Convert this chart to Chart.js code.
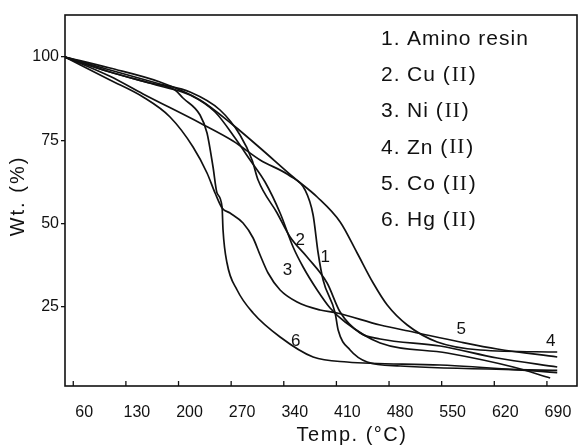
<!DOCTYPE html>
<html>
<head>
<meta charset="UTF-8">
<title>TGA curves</title>
<script src="https://cdn.jsdelivr.net/npm/chart.js@4.4.1/dist/chart.umd.min.js"></script>
<style>
body { margin: 0; background: #fff; }
</style>
</head>
<body>
<canvas id="myChart" width="579" height="448"></canvas>
<script>
// temperature (°C) / weight (%) pairs
const tAmino = [49, 108.8, 152.8, 228.6, 272.5, 308.5, 348.4, 368.3, 379, 385.7, 392.3, 408.3, 412.3, 428.2, 450.9, 494.8, 703.7];
const wAmino = [100, 94.2, 88.9, 80.2, 74.8, 69.1, 64.3, 60.1, 52.6, 41.2, 33.1, 23.2, 18.1, 12.1, 8.5, 7.3, 6.0];

const tCu = [49, 108.8, 175.3, 215.3, 255.2, 281.8, 297.8, 305.8, 331.1, 348.4, 371, 397.6, 414.9, 441.5, 468.2, 548, 623.9, 703.7];
const wCu = [100, 96.1, 91.9, 89.5, 84.1, 76.6, 69.1, 63.1, 53.2, 46, 40, 32.2, 23.5, 17.2, 15.4, 13.3, 9.7, 7.0];

const tNi = [49, 108.8, 175.3, 215.3, 248.6, 275.2, 295.2, 315.1, 335.1, 352.4, 365.7, 384.4, 401.6, 421.6, 468.2, 557.3, 645.1, 694.3];
const wNi = [100, 95.5, 91.3, 88.6, 83.5, 75.7, 69.1, 62.5, 53.2, 43, 37, 30.1, 24.7, 20.5, 14.2, 11.2, 7.0, 3.7];

const tZn = [49, 108.8, 175.3, 228.6, 272.5, 308.5, 352.4, 384.4, 415, 437.6, 458.9, 477.6, 504.2, 544.1, 601.3, 703.7];
const wZn = [100, 96.7, 92.5, 87.1, 79.6, 72.7, 64, 58, 50.5, 41.2, 32.2, 25.6, 19.6, 14.5, 12.1, 11.5];

const tCo = [49, 108.8, 152.8, 188.7, 219.3, 237.9, 248.6, 257.9, 268.5, 285.8, 299.2, 308.5, 319.1, 335.1, 357.7, 388.3, 410.9, 468.2, 512.1, 574.6, 623.9, 703.7];
const wCo = [100, 93.1, 88, 82, 73, 65.2, 59.2, 54.7, 53.2, 50.2, 45.7, 40.6, 35.2, 30.1, 26.5, 24.1, 23.2, 19.6, 17.5, 14.5, 12.4, 10.0];

const tHg = [49, 108.8, 162.1, 195.3, 205.9, 228.6, 237.9, 245.9, 251.2, 257.9, 259.2, 264.5, 277.9, 299.2, 335.1, 379, 424.2, 548, 703.7];
const wHg = [100, 95.5, 92.2, 90.1, 87.7, 82.6, 77.2, 67, 59.2, 55, 48.1, 38.2, 30.1, 23.2, 16, 10, 8.5, 7.6, 5.3];

const seriesNames = ['Amino resin', 'Cu (II)', 'Ni (II)', 'Zn (II)', 'Co (II)', 'Hg (II)'];
const xTicks = [60, 130, 200, 270, 340, 410, 480, 550, 620, 690];
const yTicks = [25, 50, 75, 100];

// where the curve numbers sit (temp, wt)
const curveTags = [
    ['1', 395, 40], ['2', 362, 45], ['3', 345, 36],
    ['4', 695, 14.8], ['5', 576, 18.4], ['6', 356, 14.8]
];

function pairs(t, w) {
    return t.map((v, i) => ({ x: v, y: w[i] }));
}

const allT = [tAmino, tCu, tNi, tZn, tCo, tHg];
const allW = [wAmino, wCu, wNi, wZn, wCo, wHg];

const datasets = seriesNames.map((name, i) => ({
    label: name,
    data: pairs(allT[i], allW[i]),
    borderColor: '#111',
    borderWidth: 1.7,
    pointRadius: 0,
    fill: false,
    cubicInterpolationMode: 'monotone'
}));

const FONT = '"Liberation Sans", Arial, sans-serif';
const SERIF = '"Liberation Serif", "DejaVu Serif", serif';

// draws "Cu (II)" with the roman numeral in a serif face, like the original lettering
function keyText(ctx, text, x, y) {
    const m = text.match(/^(.*\()II(\))$/);
    if (!m) { ctx.fillText(text, x, y); return; }
    ctx.fillText(m[1], x, y);
    let px = x + ctx.measureText(m[1]).width + 1;
    const sans = ctx.font;
    ctx.font = '21px ' + SERIF;
    ctx.fillText('II', px, y);
    px += ctx.measureText('II').width + 1;
    ctx.font = sans;
    ctx.fillText(m[2], px, y);
}

const extras = {
    id: 'extras',
    afterDraw(chart) {
        const ctx = chart.ctx;
        const a = chart.chartArea;
        const xs = chart.scales.x, ys = chart.scales.y;
        ctx.save();
        ctx.strokeStyle = '#111';
        ctx.lineWidth = 1.6;
        ctx.strokeRect(a.left, a.top, a.right - a.left, a.bottom - a.top);

        // inward ticks on the temperature axis
        ctx.lineWidth = 1.3;
        xTicks.forEach(v => {
            const px = xs.getPixelForValue(v);
            ctx.beginPath();
            ctx.moveTo(px, a.bottom);
            ctx.lineTo(px, a.bottom - 5);
            ctx.stroke();
        });

        ctx.fillStyle = '#111';
        ctx.textAlign = 'center';
        ctx.textBaseline = 'middle';

        // numbers on the curves
        ctx.font = '17px ' + FONT;
        curveTags.forEach(c => {
            ctx.fillText(c[0], xs.getPixelForValue(c[1]), ys.getPixelForValue(c[2]));
        });

        // key in the top right corner
        ctx.textAlign = 'left';
        ctx.font = '21px ' + FONT;
        ctx.letterSpacing = '1px';
        seriesNames.forEach((name, i) => {
            const y = a.top + 24 + i * 36.3;
            ctx.fillText((i + 1) + '.', a.left + 316, y);
            keyText(ctx, name, a.left + 342, y);
        });

        // axis titles
        ctx.font = '20px ' + FONT;
        ctx.letterSpacing = '1.5px';
        ctx.textAlign = 'center';
        ctx.fillText('Temp. (°C)', 352, 435);
        ctx.translate(18, 196);
        ctx.rotate(-Math.PI / 2);
        ctx.letterSpacing = '2px';
        ctx.fillText('Wt. (%)', 0, 0);
        ctx.restore();
    }
};

let myChart = new Chart(document.getElementById('myChart'), {
    type: 'line',
    data: { datasets: datasets },
    options: {
        responsive: false,
        animation: false,
        devicePixelRatio: 1,
        layout: { padding: { top: 15, right: 2, left: 0, bottom: 0 } },
        plugins: { legend: { display: false }, tooltip: { enabled: false } },
        scales: {
            x: {
                type: 'linear',
                min: 49,
                max: 730,
                afterBuildTicks: s => { s.ticks = xTicks.map(v => ({ value: v })); },
                afterFit: s => { s.height = 62; },
                grid: { display: false },
                border: { display: false },
                ticks: { color: '#111', font: { family: FONT, size: 16 }, padding: 9, labelOffset: 11, maxRotation: 0 }
            },
            y: {
                min: 1.3,
                max: 112.6,
                afterBuildTicks: s => { s.ticks = yTicks.map(v => ({ value: v })); },
                afterFit: s => { s.width = 65; },
                grid: { drawOnChartArea: false, drawTicks: true, tickLength: 4, color: '#111', lineWidth: 1.3 },
                border: { display: false },
                ticks: { color: '#111', font: { family: FONT, size: 16 }, padding: 2 }
            }
        }
    },
    plugins: [extras]
});
</script>
</body>
</html>
